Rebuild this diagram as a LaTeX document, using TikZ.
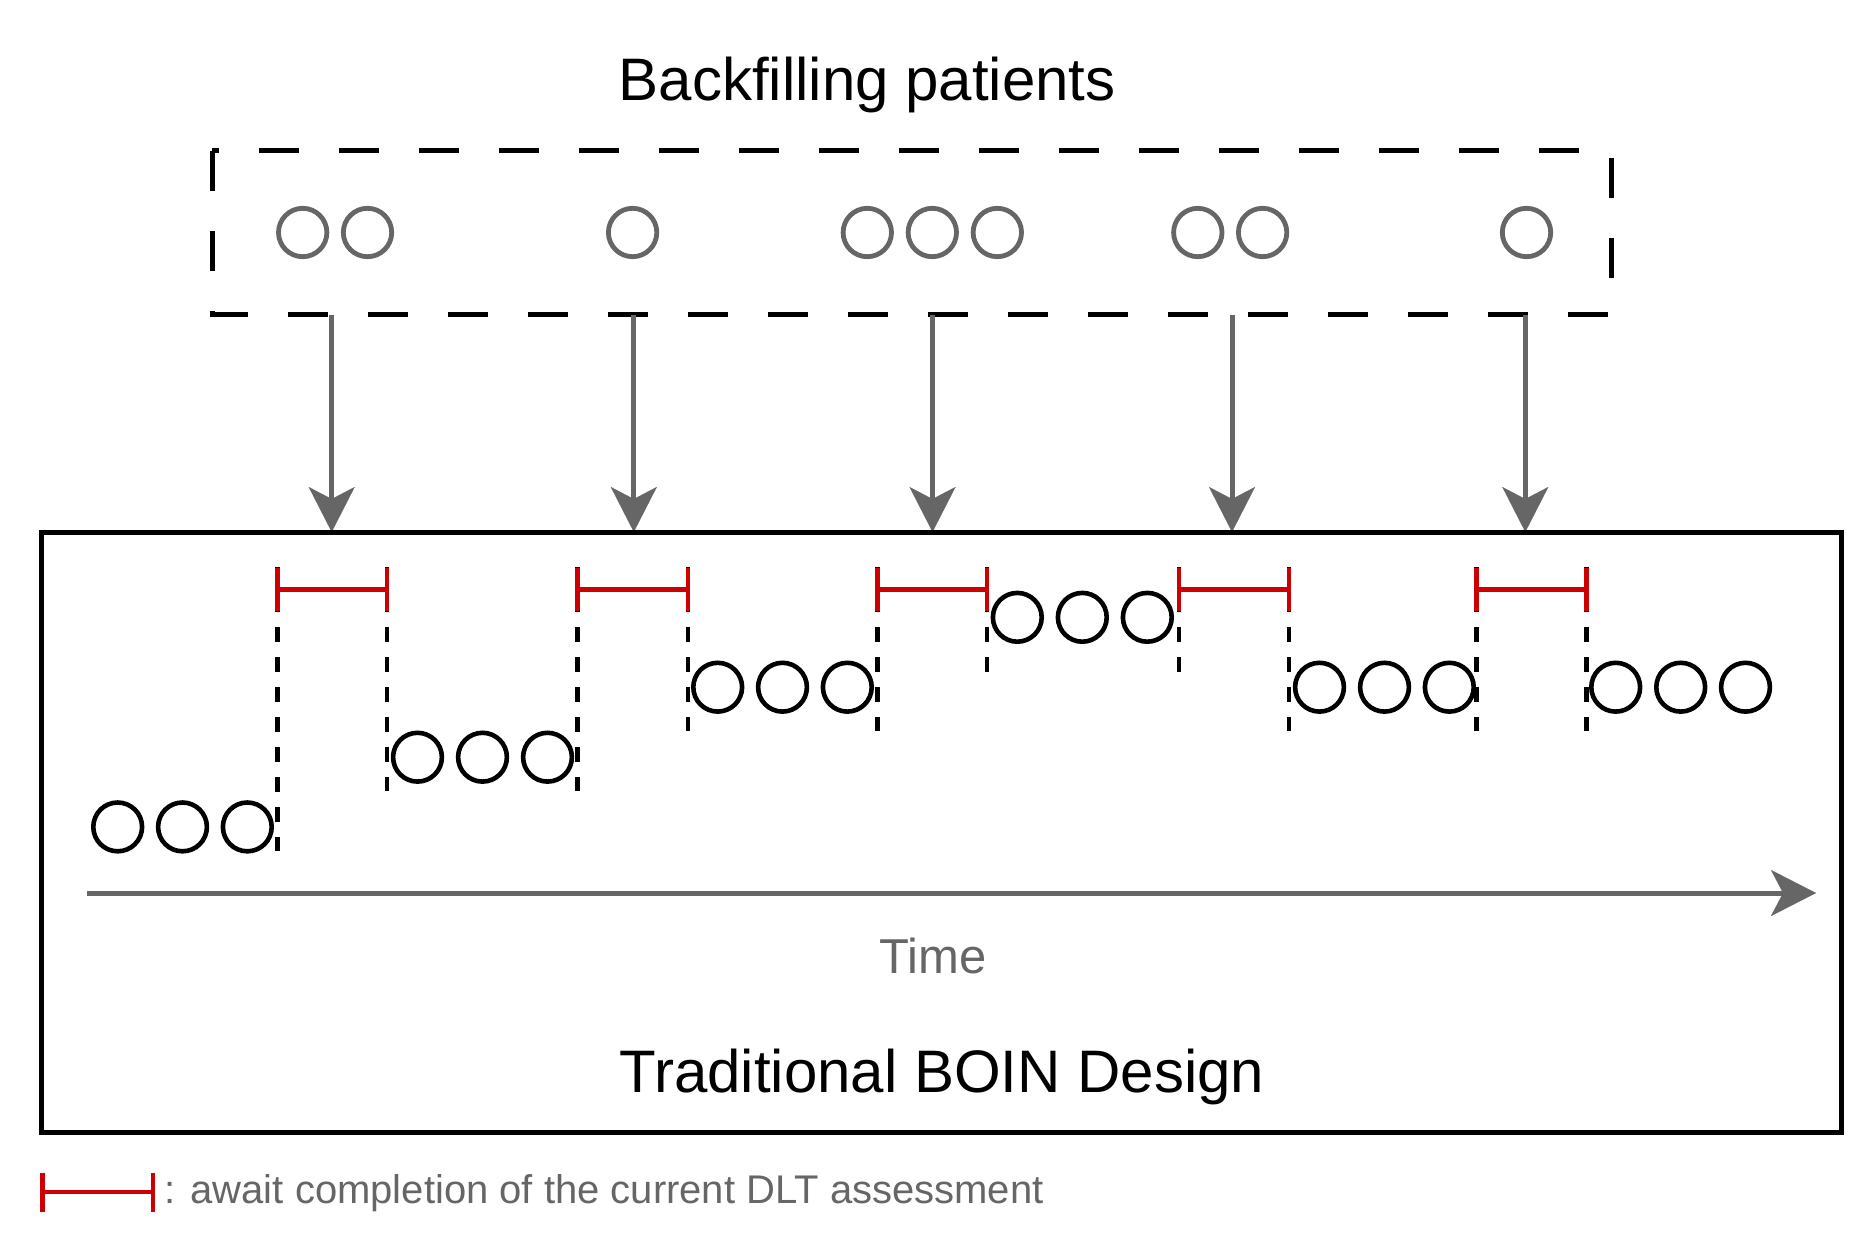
\documentclass[tikz,border=0pt]{standalone}
\usepackage{fontspec}
\setmainfont{Liberation Sans}
\usetikzlibrary{arrows.meta}
\definecolor{dgray}{HTML}{666666}
\definecolor{dred}{HTML}{CC0000}
\tikzset{
  bcirc/.style={circle,draw=black,line width=4.6pt,minimum size=48.8pt,inner sep=0pt},
  gcirc/.style={circle,draw=dgray,line width=4.8pt,minimum size=48.4pt,inner sep=0pt},
  gbox/.style={draw=black,line width=5pt,dash pattern=on 40pt off 40pt},
  obox/.style={draw=black,line width=5pt},
  garrow/.style={draw=dgray,line width=5pt,-{Stealth[length=45pt,width=46pt,inset=12pt,line width=0.01pt]}},
  vdashline/.style={draw=black,line width=4.4pt,dash pattern=on 15pt off 15pt},
  redbar/.style={draw=dred,line width=4.4pt},
  bigtxt/.style={inner sep=0pt,anchor=base west,font=\fontsize{60}{70}\selectfont},
}
\begin{document}
\begin{tikzpicture}[x=1pt,y=-1pt]
\useasboundingbox (0,0) rectangle (1865,1260);
% title
\node[bigtxt] (title) at (618.6,101) {Backfilling patients};
% dashed box
\draw[gbox] (212,150.7) rectangle (1611.6,314.6);
% backfill circles
\node[gcirc] (ba1) at (302.7,232.5) {};
\node[gcirc] (ba2) at (367.5,232.5) {};
\node[gcirc] (bb1) at (632.6,232.5) {};
\node[gcirc] (bc1) at (867.3,232.5) {};
\node[gcirc] (bc2) at (932.3,232.5) {};
\node[gcirc] (bc3) at (997.3,232.5) {};
\node[gcirc] (bd1) at (1197.8,232.5) {};
\node[gcirc] (bd2) at (1262.6,232.5) {};
\node[gcirc] (be1) at (1526.5,232.5) {};
% arrow coordinates
\foreach \n/\x in {1/331.7,2/633.8,3/932.5,4/1232,5/1525.3}{
  \coordinate (as\n) at (\x,314.6);
  \coordinate (ae\n) at (\x,532);
}
\foreach \n in {1,...,5}{ \draw[garrow] (as\n) -- (ae\n); }
% outer box
\draw[obox] (41.6,532.3) rectangle (1841.6,1132);
% dashed verticals
\foreach \n/\x/\y in {1/277.6/851,2/387/791,3/577.3/791,4/687.9/731,5/877.5/731,6/987/672,7/1178.7/672,8/1288.7/731,9/1476.6/731,10/1586.6/731}{
  \coordinate (dt\n) at (\x,567);
  \coordinate (db\n) at (\x,\y);
  \draw[vdashline] (dt\n) -- (db\n);
}
% red bars
\foreach \l/\r in {1/2,3/4,5/6,7/8,9/10}{
  \draw[redbar] ([yshift=-1pt]dt\l) -- ++(0,43)
                ([yshift=-22.5pt]dt\l) -- ([yshift=-22.5pt]dt\r)
                ([yshift=-1pt]dt\r) -- ++(0,43);
}
% black circles
\node[bcirc] (g1a) at (117.7,826.9) {};
\node[bcirc] (g1b) at (182.5,826.9) {};
\node[bcirc] (g1c) at (247.3,826.9) {};
\node[bcirc] (g2a) at (417.5,757.2) {};
\node[bcirc] (g2b) at (482.5,757.2) {};
\node[bcirc] (g2c) at (547.5,757.2) {};
\node[bcirc] (g3a) at (717.7,687.2) {};
\node[bcirc] (g3b) at (782.5,687.2) {};
\node[bcirc] (g3c) at (847.3,687.2) {};
\node[bcirc] (g4a) at (1017.3,617.3) {};
\node[bcirc] (g4b) at (1082.3,617.3) {};
\node[bcirc] (g4c) at (1147.3,617.3) {};
\node[bcirc] (g5a) at (1319.5,687.2) {};
\node[bcirc] (g5b) at (1384.5,687.2) {};
\node[bcirc] (g5c) at (1449.3,687.2) {};
\node[bcirc] (g6a) at (1615.7,687.2) {};
\node[bcirc] (g6b) at (1680.7,687.2) {};
\node[bcirc] (g6c) at (1745.5,687.2) {};
% time axis
\coordinate (t0) at (87.4,893);
\coordinate (t1) at (1816,893);
\draw[garrow] (t0) -- (t1);
\node[inner sep=0pt,anchor=base west,text=dgray,font=\fontsize{49}{58}\selectfont] (time) at (879,973.5) {Time};
\node[bigtxt] (boin) at (619.4,1092) {Traditional BOIN Design};
% legend
\coordinate (lg1) at (42.3,1191.7);
\coordinate (lg2) at (152.7,1191.7);
\draw[redbar] ([yshift=19pt]lg1) -- ([yshift=-20.6pt]lg1) (lg1) -- (lg2) ([yshift=19pt]lg2) -- ([yshift=-20.6pt]lg2);
\node[inner sep=0pt,anchor=base west,text=dgray,font=\fontsize{40}{48}\selectfont] (legend) at (164.5,1203) {: await completion of the current DLT assessment};
\end{tikzpicture}
\end{document}
